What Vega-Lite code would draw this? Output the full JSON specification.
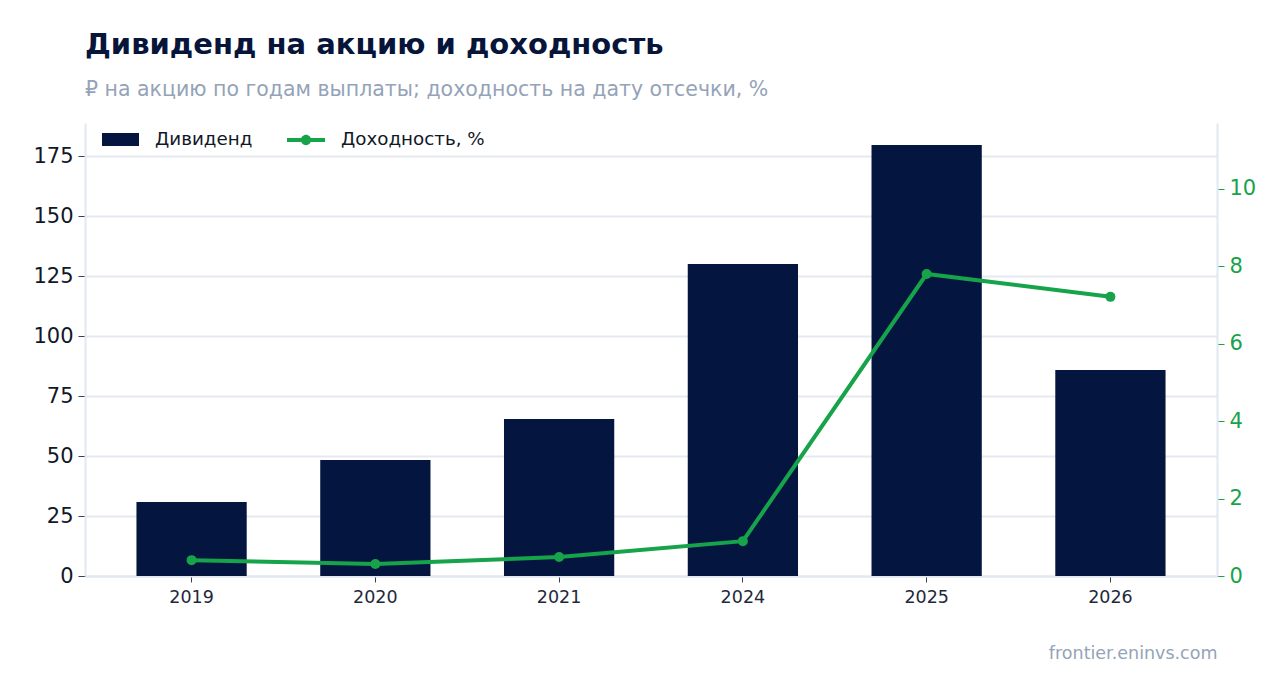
{
  "$schema": "https://vega.github.io/schema/vega-lite/v6.json",
  "width": 1132,
  "height": 453,
  "autosize": "none",
  "padding": {"left": 85, "top": 123, "right": 71, "bottom": 117},
  "background": "white",
  "config": {
    "font": "DejaVu Sans",
    "view": {"stroke": null}
  },
  "title": {
    "text": "Дивиденд на акцию и доходность",
    "subtitle": "₽ на акцию по годам выплаты; доходность на дату отсечки, %",
    "anchor": "start",
    "frame": "group",
    "font": "DejaVu Sans",
    "fontSize": 29,
    "fontWeight": "bold",
    "color": "#061539",
    "subtitleFont": "DejaVu Sans",
    "subtitleFontSize": 20.5,
    "subtitleColor": "#94a3b8",
    "subtitlePadding": 20,
    "offset": 21
  },
  "data": {
    "values": [
      {"year": "2019", "div": 30.8, "yield": 0.41},
      {"year": "2020", "div": 48.3, "yield": 0.31},
      {"year": "2021", "div": 65.4, "yield": 0.49},
      {"year": "2024", "div": 130.0, "yield": 0.9},
      {"year": "2025", "div": 179.6, "yield": 7.8},
      {"year": "2026", "div": 85.8, "yield": 7.21}
    ]
  },
  "encoding": {
    "x": {
      "field": "year",
      "type": "nominal",
      "scale": {"paddingInner": 0.4, "paddingOuter": 0.28},
      "axis": {
        "labelAngle": 0,
        "labelFontSize": 17.5,
        "labelColor": "#1e293b",
        "labelPadding": 6,
        "tickColor": "#334155",
        "tickSize": 6,
        "domainColor": "#e2e8f0",
        "domainWidth": 2,
        "title": "frontier.eninvs.com",
        "titleAnchor": "end",
        "titleColor": "#94a3b8",
        "titleFontSize": 17.5,
        "titleFontWeight": "normal",
        "titlePadding": 39
      }
    }
  },
  "layer": [
    {
      "mark": {"type": "bar"},
      "encoding": {
        "y": {
          "field": "div",
          "type": "quantitative",
          "scale": {"domain": [0, 188.75], "nice": false},
          "axis": {
            "values": [0, 25, 50, 75, 100, 125, 150, 175],
            "title": null,
            "labelFontSize": 21,
            "labelColor": "#111827",
            "labelPadding": 5,
            "tickColor": "#334155",
            "tickSize": 7,
            "domainColor": "#e2e8f0",
            "domainWidth": 2,
            "grid": true,
            "gridColor": "#e5e9f0",
            "gridWidth": 2
          }
        },
        "color": {
          "datum": "Дивиденд",
          "scale": {"range": ["#041640"]},
          "legend": {
            "title": null,
            "orient": "none",
            "legendX": 17,
            "legendY": -2,
            "symbolType": "M-1,-0.35H1V0.35H-1Z",
            "symbolSize": 1369,
            "symbolStrokeWidth": 0,
            "labelFontSize": 18.3,
            "labelColor": "#111827",
            "labelOffset": 16
          }
        }
      }
    },
    {
      "mark": {
        "type": "line",
        "strokeWidth": 4,
        "point": {"filled": true, "size": 100}
      },
      "encoding": {
        "y": {
          "field": "yield",
          "type": "quantitative",
          "scale": {"domain": [0, 11.7], "nice": false},
          "axis": {
            "orient": "right",
            "values": [0, 2, 4, 6, 8, 10],
            "title": null,
            "labelFontSize": 21,
            "labelColor": "#16a34a",
            "labelPadding": 5,
            "tickColor": "#16a34a",
            "tickSize": 7,
            "domainColor": "#e2e8f0",
            "domainWidth": 2,
            "grid": false
          }
        },
        "color": {
          "datum": "Доходность, %",
          "scale": {"range": ["#16a34a"]},
          "legend": {
            "title": null,
            "orient": "none",
            "legendX": 202,
            "legendY": -2,
            "symbolType": "M-1,-0.1H1V0.1H-1Z M0.27,0A0.27,0.27,0,1,1,-0.27,0A0.27,0.27,0,1,1,0.27,0Z",
            "symbolSize": 1444,
            "symbolFillColor": "#16a34a",
            "symbolStrokeWidth": 0,
            "labelFontSize": 18.3,
            "labelColor": "#111827",
            "labelOffset": 16
          }
        }
      }
    }
  ],
  "resolve": {"scale": {"y": "independent", "color": "independent"}}
}
